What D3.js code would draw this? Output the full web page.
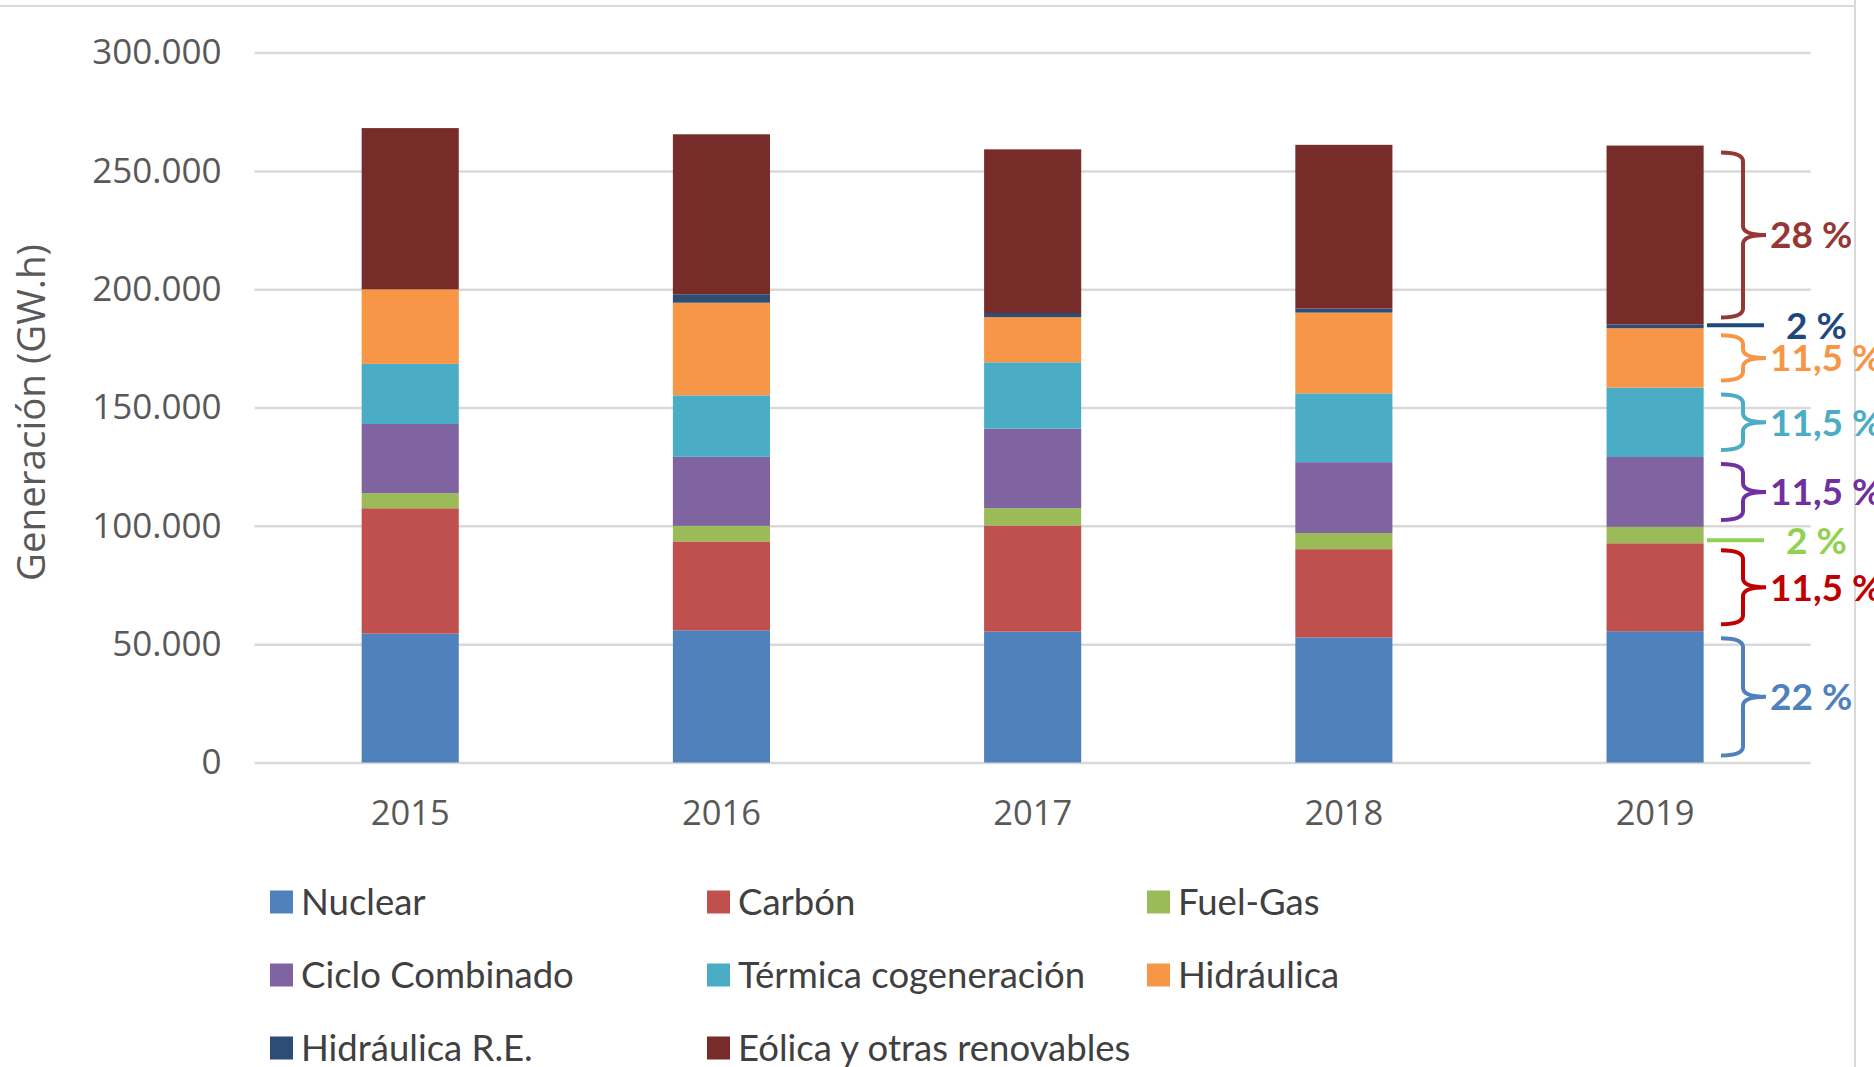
<!DOCTYPE html>
<html><head><meta charset="utf-8">
<script src="https://cdn.jsdelivr.net/npm/d3@7"></script>
<style>
html,body{margin:0;padding:0;background:#fff;}
svg{display:block;}
</style></head>
<body>
<svg id="chart" width="1874" height="1067"></svg>
<script>
// ---------- DATA ----------
const years = ["2015", "2016", "2017", "2018", "2019"];
const seriesNames = ["Nuclear", "Carbón", "Fuel-Gas", "Ciclo Combinado", "Térmica cogeneración", "Hidráulica", "Hidráulica R.E.", "Eólica y otras renovables"];
const nuclear        = [54450, 55870, 55320, 52870, 55480];
const carbon         = [53000, 37550, 44820, 37290, 37160];
const fuelGas        = [6400, 6580, 7350, 6830, 6930];
const cicloCombinado = [29200, 29180, 33620, 29940, 29520];
const termicaCogen   = [25400, 25980, 28010, 29060, 29340];
const hidraulica     = [31500, 39150, 19090, 34140, 25110];
const hidraulicaRE   = [0, 3560, 1750, 1750, 1600];
const eolica         = [68150, 67610, 69150, 69150, 75570];
const seriesColors = ["#4f81bd", "#c0504d", "#9bbb59", "#8064a2", "#4bacc6", "#f79646", "#2c4d75", "#772c2a"];
const yTicks = [0, 50000, 100000, 150000, 200000, 250000, 300000];
const annotLabels = ["22 %", "11,5 %", "2 %", "11,5 %", "11,5 %", "11,5 %", "2 %", "28 %"];
const annotKinds  = ["brace", "brace", "line", "brace", "brace", "brace", "line", "brace"];
const annotColors = ["#4f81bd", "#c00000", "#92d050", "#7030a0", "#4bacc6", "#f79646", "#1f497d", "#953735"];
const yTitle = "Generación (GW.h)";

// ---------- BUILD ----------
const seriesValues = [nuclear, carbon, fuelGas, cicloCombinado, termicaCogen, hidraulica, hidraulicaRE, eolica];
const table = years.map((yr, i) => {
  const row = {year: yr};
  seriesNames.forEach((s, k) => row[s] = seriesValues[k][i]);
  return row;
});
const stacked = d3.stack().keys(seriesNames)(table);

const svg = d3.select("#chart");
const plotLeft = 254.6, plotRight = 1810.7, plotTop = 52.6, plotBottom = 762.5;

const x = d3.scaleBand().domain(years).range([plotLeft, plotRight]).paddingInner(0.688).paddingOuter(0.344);
const y = d3.scaleLinear().domain([0, 300000]).range([plotBottom, plotTop]);

const loc = d3.formatLocale({decimal: ",", thousands: ".", grouping: [3], currency: ["", ""]});
const fmt = loc.format(",");

// chart frame
svg.append("line").attr("x1", 0).attr("x2", 1855).attr("y1", 6).attr("y2", 6).attr("stroke", "#d9d9d9").attr("stroke-width", 2);
svg.append("line").attr("x1", 1855).attr("x2", 1855).attr("y1", 0).attr("y2", 1067).attr("stroke", "#d9d9d9").attr("stroke-width", 2);

// gridlines + y axis
const yAxis = d3.axisLeft(y).tickValues(yTicks).tickFormat(fmt).tickSize(-(plotRight - plotLeft)).tickPadding(33);
const gy = svg.append("g").attr("transform", `translate(${plotLeft},0)`).call(yAxis);
gy.select(".domain").remove();
gy.selectAll(".tick line").attr("stroke", "#d9d9d9").attr("stroke-width", 2.5);
gy.selectAll(".tick text").attr("fill", "#595959").style("font-family", "'Open Sans', sans-serif").style("font-size", "35px");

// bars
svg.append("g").selectAll("g").data(stacked).join("g")
  .attr("fill", (d, i) => seriesColors[i])
  .selectAll("rect").data(d => d).join("rect")
  .attr("x", d => x(d.data.year))
  .attr("width", x.bandwidth())
  .attr("y", d => y(d[1]))
  .attr("height", d => y(d[0]) - y(d[1]));

// x axis labels
const xAxis = d3.axisBottom(x).tickSize(0).tickPadding(38);
const gx = svg.append("g").attr("transform", `translate(0,${plotBottom})`).call(xAxis);
gx.select(".domain").remove();
gx.selectAll(".tick text").attr("fill", "#595959").style("font-family", "'Open Sans', sans-serif").style("font-size", "34.5px");

// y title
svg.append("text")
  .attr("transform", `translate(45,${(plotTop + plotBottom) / 2 + 5}) rotate(-90)`)
  .attr("text-anchor", "middle")
  .attr("fill", "#595959")
  .style("font-family", "'Open Sans', sans-serif").style("font-size", "38.5px")
  .text(yTitle);

// legend
const legCols = [270, 707, 1147];
const legRows = [902, 975, 1048];
const leg = svg.append("g").selectAll("g").data(seriesNames).join("g")
  .attr("transform", (d, i) => `translate(${legCols[i % 3]},${legRows[Math.floor(i / 3)]})`);
leg.append("rect").attr("x", 0).attr("y", -11.5).attr("width", 23).attr("height", 23).attr("fill", (d, i) => seriesColors[i]);
leg.append("text").attr("x", 31).attr("y", 0).attr("dy", "0.35em")
  .attr("fill", "#404040")
  .style("font-family", "Lato, sans-serif").style("font-size", "36.5px")
  .text(d => d);

// annotations (beside last bar)
const last = years.length - 1;
const bx0 = 1721, bx1 = 1743, bx2 = 1766, lx0 = 1707, lx1 = 1764;
const ann = svg.append("g");
stacked.forEach((s, i) => {
  const lo = s[last][0], hi = s[last][1];
  const col = annotColors[i];
  if (annotKinds[i] === "brace") {
    const yt = y(hi) + 7, yb = y(lo) - 7, ym = (yt + yb) / 2, r = 9;
    const p = `M${bx0},${yt} Q${bx1},${yt} ${bx1},${yt + r} L${bx1},${ym - r} Q${bx1},${ym} ${bx2},${ym} Q${bx1},${ym} ${bx1},${ym + r} L${bx1},${yb - r} Q${bx1},${yb} ${bx0},${yb}`;
    ann.append("path").attr("d", p).attr("fill", "none").attr("stroke", col).attr("stroke-width", 4);
    ann.append("text").attr("x", bx2 + 4).attr("y", ym).attr("dy", "0.36em")
      .attr("fill", col).style("font-family", "Lato, sans-serif").style("font-weight", "700").style("font-size", "37px")
      .text(annotLabels[i]);
  } else {
    const ym = y(lo) - 3;
    ann.append("line").attr("x1", lx0).attr("x2", lx1).attr("y1", ym).attr("y2", ym).attr("stroke", col).attr("stroke-width", 4);
    ann.append("text").attr("x", 1786).attr("y", ym).attr("dy", "0.36em")
      .attr("fill", col).style("font-family", "Lato, sans-serif").style("font-weight", "700").style("font-size", "37px")
      .text(annotLabels[i]);
  }
});
</script>
</body></html>
